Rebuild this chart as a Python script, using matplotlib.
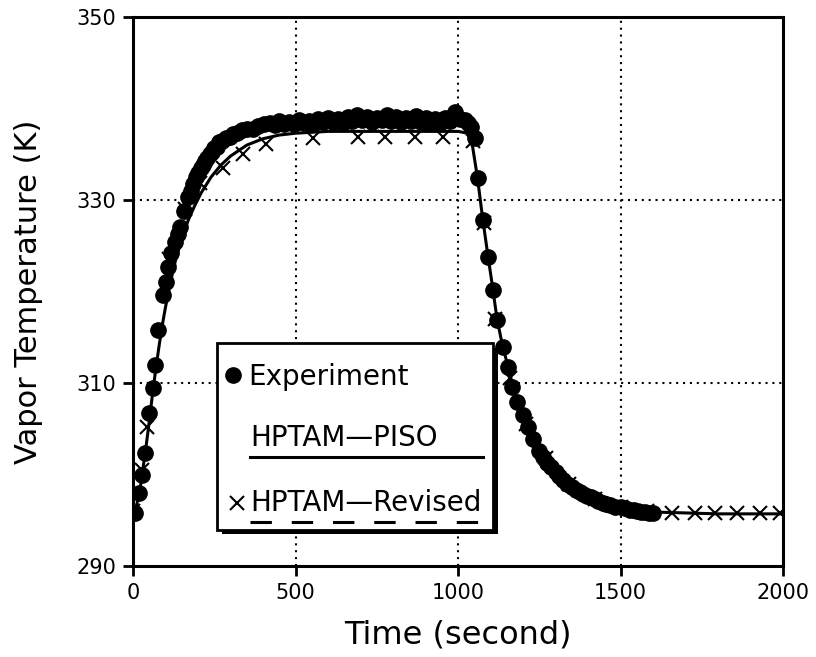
import matplotlib
matplotlib.use("Agg")
import matplotlib.pyplot as plt
from matplotlib.patches import Rectangle
from matplotlib.lines import Line2D

# ---------------- data ----------------
exp_t = [6, 18, 27, 37, 49, 60, 68, 77, 92, 100, 108, 118, 129, 137, 145, 157, 169,
         177, 185, 193, 200, 208, 215, 222, 228, 236, 243, 250, 258, 266, 275, 286,
         298, 309, 320, 335, 351, 368, 385, 403, 421, 436, 450, 465, 480, 495, 510,
         525, 540, 555, 570, 585, 600, 615, 630, 645, 660, 675, 690, 705, 720, 735,
         750, 765, 780, 795, 810, 825, 840, 855, 870, 885, 900, 915, 930, 945, 960,
         975, 991, 1005, 1020, 1030, 1040, 1052, 1062, 1077, 1092, 1108, 1120, 1138,
         1154, 1166, 1182, 1200, 1215, 1231, 1250, 1262, 1274, 1287, 1300, 1312,
         1323, 1336, 1350, 1362, 1375, 1386, 1397, 1408, 1420, 1432, 1445, 1456,
         1468, 1484, 1500, 1515, 1530, 1540, 1551, 1563, 1575, 1588, 1600]
exp_T = [295.8, 298.0, 300.0, 302.3, 306.7, 309.5, 312.0, 315.8, 319.6, 321.0, 322.7,
         324.2, 325.4, 326.3, 327.0, 328.8, 330.3, 331.0, 331.8, 332.5, 332.9, 333.5,
         333.8, 334.3, 334.6, 335.0, 335.3, 335.7, 335.8, 336.3, 336.4, 336.8, 336.9,
         337.2, 337.3, 337.6, 337.8, 337.8, 338.1, 338.3, 338.4, 338.2, 338.6, 338.3,
         338.5, 338.3, 338.7, 338.4, 338.6, 338.3, 338.9, 338.5, 339.0, 338.5, 338.9,
         338.4, 339.1, 338.6, 339.3, 338.7, 339.1, 338.5, 339.0, 338.7, 339.3, 338.6,
         339.1, 338.5, 339.0, 338.6, 339.2, 338.5, 339.0, 338.4, 338.9, 338.4, 339.0,
         338.6, 339.6, 338.8, 338.7, 338.4, 338.0, 336.8, 332.4, 327.8, 323.8, 320.2,
         316.9, 313.9, 311.7, 309.6, 307.9, 306.5, 305.2, 303.9, 302.6, 301.9, 301.3,
         300.8, 300.3, 299.8, 299.4, 299.0, 298.6, 298.3, 298.1, 297.9, 297.7, 297.5,
         297.3, 297.1, 296.9, 296.8, 296.7, 296.5, 296.4, 296.3, 296.1, 296.1, 296.0,
         295.9, 295.9, 295.8, 295.8]

piso_t = [0, 10, 20, 30, 40, 50, 60, 70, 80, 90, 100, 115, 130, 150, 170, 190, 210,
          240, 270, 300, 350, 400, 450, 500, 600, 700, 800, 900, 1000, 1030, 1045,
          1060, 1075, 1090, 1105, 1120, 1135, 1150, 1165, 1180, 1200, 1225, 1250,
          1275, 1300, 1350, 1400, 1450, 1500, 1550, 1600, 1700, 1800, 1900, 2000]
piso_T = [295.5, 296.5, 298.0, 300.5, 303.0, 305.8, 308.8, 311.5, 314.0, 316.3, 318.3,
          321.0, 323.3, 325.8, 327.8, 329.4, 330.8, 332.5, 333.8, 334.8, 336.0, 336.7,
          337.1, 337.3, 337.5, 337.5, 337.5, 337.5, 337.5, 337.3, 335.8, 332.4, 328.2,
          324.4, 320.8, 317.0, 314.4, 312.3, 310.2, 308.4, 306.5, 304.6, 303.0, 301.7,
          300.6, 299.0, 297.8, 297.0, 296.5, 296.1, 295.9, 295.8, 295.7, 295.7, 295.7]

rev_t = [0, 28, 42, 110, 160, 206, 277, 338, 410, 554, 692, 775, 868, 954, 1045,
         1080, 1115, 1160, 1210, 1270, 1340, 1420, 1500, 1580, 1658, 1729, 1791,
         1858, 1929, 1991]
rev_T = [296.0, 300.5, 305.2, 323.5, 329.0, 331.9, 333.5, 335.0, 336.1, 336.8, 336.9,
         336.9, 336.9, 336.9, 336.5, 327.5, 317.0, 310.5, 305.5, 301.8, 299.0, 297.3,
         296.4, 296.0, 295.8, 295.8, 295.8, 295.8, 295.8, 295.8]

x_ticks = [0, 500, 1000, 1500, 2000]
y_ticks = [290, 310, 330, 350]

# ---------------- figure ----------------
fig = plt.figure(figsize=(8.16, 6.57), dpi=100)
ax = fig.add_axes([0.163, 0.1385, 0.7966, 0.8356])

ax.set_xlim(0, 2000)
ax.set_ylim(290, 350)
ax.set_xticks(x_ticks)
ax.set_yticks(y_ticks)
ax.tick_params(axis='both', direction='out', length=7, width=2, labelsize=15, pad=5)

for s in ax.spines.values():
    s.set_linewidth(2.2)

# grid (dotted)
for gx in [500, 1000, 1500]:
    ax.axvline(gx, color='black', lw=1.5, ls=(0, (1, 2.3)), zorder=0.5)
for gy in [310, 330]:
    ax.axhline(gy, color='black', lw=1.5, ls=(0, (1, 2.3)), zorder=0.5)

# data
ax.plot(piso_t, piso_T, color='black', lw=2.2, zorder=3)
ax.plot(rev_t, rev_T, ls='none', color='black', marker='x', ms=10, mew=1.5, zorder=3)
ax.plot(exp_t, exp_T, ls='none', marker='o', ms=11, color='black', zorder=4)

ax.set_xlabel('Time (second)', fontsize=23, labelpad=12)
ax.set_ylabel('Vapor Temperature (K)', fontsize=22, labelpad=24)

# ---------------- custom legend ----------------
L, R, B, T = 0.129, 0.554, 0.0656, 0.406
shadow = Rectangle((L + 0.008, B - 0.008), R - L, T - B, transform=ax.transAxes,
                   facecolor='black', edgecolor='black', lw=0, zorder=1)
box = Rectangle((L, B), R - L, T - B, transform=ax.transAxes,
                facecolor='white', edgecolor='black', lw=2, zorder=1.1)
ax.add_patch(shadow)
ax.add_patch(box)

ax.add_line(Line2D([0.1538], [0.348], transform=ax.transAxes, marker='o', ms=11,
                   color='black', ls='none', zorder=5))
ax.text(0.178, 0.344, 'Experiment', transform=ax.transAxes, fontsize=20,
        va='center', ha='left', zorder=5)

ax.text(0.18, 0.233, 'HPTAM\u2014PISO', transform=ax.transAxes, fontsize=20,
        va='center', ha='left', zorder=5)
ax.add_line(Line2D([0.18, 0.538], [0.1985, 0.1985], transform=ax.transAxes,
                   color='black', lw=2.2, zorder=5))

ax.add_line(Line2D([0.16], [0.1148], transform=ax.transAxes, marker='x', ms=10,
                   mew=1.5, color='black', ls='none', zorder=5))
ax.text(0.18, 0.1148, 'HPTAM\u2014Revised', transform=ax.transAxes, fontsize=20,
        va='center', ha='left', zorder=5)
ax.add_line(Line2D([0.18, 0.538], [0.080, 0.080], transform=ax.transAxes,
                   color='black', lw=2.2, ls=(0, (7, 6.5)), zorder=5))

fig.savefig('out.png', dpi=100)
